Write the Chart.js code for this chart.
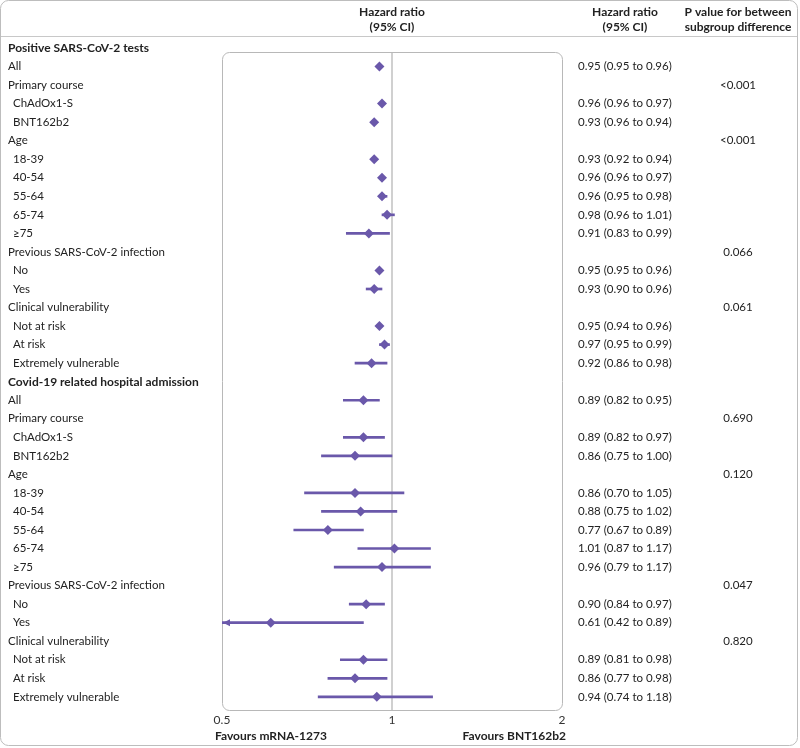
<!DOCTYPE html>
<html>
<head>
<meta charset="utf-8">
<script src="https://cdn.jsdelivr.net/npm/chart.js@4.4.1/dist/chart.umd.min.js"></script>
<style>
    html, body { margin: 0; padding: 0; background: #fff; }
    #forest { display: block; }
</style>
</head>
<body>
<canvas id="forest" width="800" height="748"></canvas>
<script>
// 行标签 (0 = 粗体标题, 1 = 分组, 2 = 缩进子项)
const rowLabels = [
    'Positive SARS-CoV-2 tests', 'All', 'Primary course', 'ChAdOx1-S', 'BNT162b2',
    'Age', '18-39', '40-54', '55-64', '65-74', '≥75',
    'Previous SARS-CoV-2 infection', 'No', 'Yes',
    'Clinical vulnerability', 'Not at risk', 'At risk', 'Extremely vulnerable',
    'Covid-19 related hospital admission', 'All', 'Primary course', 'ChAdOx1-S', 'BNT162b2',
    'Age', '18-39', '40-54', '55-64', '65-74', '≥75',
    'Previous SARS-CoV-2 infection', 'No', 'Yes',
    'Clinical vulnerability', 'Not at risk', 'At risk', 'Extremely vulnerable'
];
const rowLevels = [
    0, 1, 1, 2, 2, 1, 2, 2, 2, 2, 2, 1, 2, 2, 1, 2, 2, 2,
    0, 1, 1, 2, 2, 1, 2, 2, 2, 2, 2, 1, 2, 2, 1, 2, 2, 2
];

// 风险比及置信区间
const hrPoint = [
    null, 0.95, null, 0.96, 0.93, null, 0.93, 0.96, 0.96, 0.98, 0.91, null, 0.95, 0.93, null, 0.95, 0.97, 0.92,
    null, 0.89, null, 0.89, 0.86, null, 0.86, 0.88, 0.77, 1.01, 0.96, null, 0.90, 0.61, null, 0.89, 0.86, 0.94
];
const hrLow = [
    null, 0.95, null, 0.96, 0.92, null, 0.92, 0.96, 0.95, 0.96, 0.83, null, 0.95, 0.90, null, 0.94, 0.95, 0.86,
    null, 0.82, null, 0.82, 0.75, null, 0.70, 0.75, 0.67, 0.87, 0.79, null, 0.84, 0.42, null, 0.81, 0.77, 0.74
];
const hrHigh = [
    null, 0.96, null, 0.97, 0.94, null, 0.94, 0.97, 0.98, 1.01, 0.99, null, 0.96, 0.96, null, 0.96, 0.99, 0.98,
    null, 0.95, null, 0.97, 1.00, null, 1.05, 1.02, 0.89, 1.17, 1.17, null, 0.97, 0.89, null, 0.98, 0.98, 1.18
];

// 右侧文字列
const hrText = [
    '', '0.95 (0.95 to 0.96)', '', '0.96 (0.96 to 0.97)', '0.93 (0.96 to 0.94)', '',
    '0.93 (0.92 to 0.94)', '0.96 (0.96 to 0.97)', '0.96 (0.95 to 0.98)', '0.98 (0.96 to 1.01)', '0.91 (0.83 to 0.99)', '',
    '0.95 (0.95 to 0.96)', '0.93 (0.90 to 0.96)', '',
    '0.95 (0.94 to 0.96)', '0.97 (0.95 to 0.99)', '0.92 (0.86 to 0.98)',
    '', '0.89 (0.82 to 0.95)', '', '0.89 (0.82 to 0.97)', '0.86 (0.75 to 1.00)', '',
    '0.86 (0.70 to 1.05)', '0.88 (0.75 to 1.02)', '0.77 (0.67 to 0.89)', '1.01 (0.87 to 1.17)', '0.96 (0.79 to 1.17)', '',
    '0.90 (0.84 to 0.97)', '0.61 (0.42 to 0.89)', '',
    '0.89 (0.81 to 0.98)', '0.86 (0.77 to 0.98)', '0.94 (0.74 to 1.18)'
];
const pText = [
    '', '', '<0.001', '', '', '<0.001', '', '', '', '', '', '0.066', '', '', '0.061', '', '', '',
    '', '', '0.690', '', '', '0.120', '', '', '', '', '', '0.047', '', '', '0.820', '', '', ''
];

// 刻度
const xTicks = [0.5, 1, 2];

const markColor = '#6a58aa';
const textColor = '#222';
const fontFamily = 'Lato, "Noto Sans", sans-serif';
const regFont = `11.5px ${fontFamily}`;
const boldFont = `bold 12px ${fontFamily}`;

// 只保留有数据的行
const ciData = [];
const pointData = [];
hrPoint.forEach((v, i) => {
    if (v === null) return;
    ciData.push({ y: i, x: [hrLow[i], hrHigh[i]] });
    pointData.push({ x: v, y: i });
});

// 圆角框 + 文字
const tablePlugin = {
    id: 'tablePlugin',
    beforeDatasetsDraw(chart) {
        const { ctx, chartArea: a } = chart;
        ctx.save();
        ctx.strokeStyle = '#b8b8b8';
        ctx.lineWidth = 1;
        ctx.beginPath();
        ctx.roundRect(a.left + 0.5, a.top + 0.5, a.right - a.left, a.bottom - a.top, 7);
        ctx.stroke();
        ctx.restore();
    },
    afterDatasetsDraw(chart) {
        // 超出下限的箭头
        const { ctx, chartArea: a, scales } = chart;
        const xMin = scales.x.min;
        ctx.save();
        ctx.fillStyle = markColor;
        hrLow.forEach((v, i) => {
            if (v === null || v >= xMin) return;
            const y = scales.y.getPixelForValue(i);
            ctx.beginPath();
            ctx.moveTo(a.left + 1, y);
            ctx.lineTo(a.left + 8, y - 3.5);
            ctx.lineTo(a.left + 8, y + 3.5);
            ctx.closePath();
            ctx.fill();
        });
        ctx.restore();
    },
    afterDraw(chart) {
        const { ctx, scales } = chart;
        const W = chart.width, H = chart.height;
        ctx.save();

        // 外框和分隔线
        ctx.strokeStyle = '#bdbdbd';
        ctx.lineWidth = 1;
        ctx.beginPath();
        ctx.roundRect(0.5, 0.5, W - 3, H - 3, 8);
        ctx.stroke();
        ctx.strokeStyle = '#c8c8c8';
        ctx.beginPath();
        ctx.moveTo(1, 36.5);
        ctx.lineTo(W - 3, 36.5);
        ctx.stroke();

        ctx.fillStyle = textColor;
        ctx.textBaseline = 'middle';

        // 表头
        ctx.font = boldFont;
        ctx.textAlign = 'center';
        const midX = scales.x.getPixelForValue(1);
        ctx.fillText('Hazard ratio', midX, 12);
        ctx.fillText('(95% CI)', midX, 27);
        ctx.fillText('Hazard ratio', 625, 12);
        ctx.fillText('(95% CI)', 625, 27);
        ctx.fillText('P value for between', 738, 12);
        ctx.fillText('subgroup difference', 738, 27);

        // 各行
        rowLabels.forEach((label, i) => {
            const y = scales.y.getPixelForValue(i);
            const lvl = rowLevels[i];
            ctx.font = lvl === 0 ? boldFont : regFont;
            ctx.textAlign = 'left';
            ctx.fillText(label, lvl === 2 ? 13 : 8, y);
            ctx.font = regFont;
            if (hrText[i]) ctx.fillText(hrText[i], 578, y);
            if (pText[i]) {
                ctx.textAlign = 'center';
                ctx.fillText(pText[i], 738, y);
            }
        });

        // 底部说明
        ctx.font = boldFont;
        ctx.textAlign = 'left';
        ctx.fillText('Favours mRNA-1273', 215, 736);
        ctx.textAlign = 'right';
        ctx.fillText('Favours BNT162b2', 566, 736);
        ctx.restore();
    }
};

const ctx = document.getElementById('forest').getContext('2d');
const chart = new Chart(ctx, {
    type: 'scatter',
    data: {
        datasets: [{
            type: 'bar',
            indexAxis: 'y',
            data: ciData,
            backgroundColor: markColor,
            borderWidth: 0,
            barThickness: 2,
            order: 2
        }, {
            type: 'scatter',
            data: pointData,
            pointStyle: 'rectRot',
            radius: 5,
            backgroundColor: markColor,
            borderWidth: 0,
            order: 1
        }]
    },
    options: {
        responsive: false,
        animation: false,
        layout: {
            padding: { left: 222, right: 238, top: 52, bottom: 22 }
        },
        scales: {
            x: {
                type: 'logarithmic',
                min: 0.5,
                max: 2,
                afterBuildTicks: scale => {
                    scale.ticks = xTicks.map(v => ({ value: v }));
                },
                afterFit: scale => {
                    scale.height = 16;
                },
                border: { display: false },
                grid: {
                    drawTicks: false,
                    lineWidth: 2,
                    color: c => (c.tick && c.tick.value === 1 ? '#d0d0d0' : 'rgba(0,0,0,0)')
                },
                ticks: {
                    padding: 3,
                    color: '#333',
                    font: { family: fontFamily, size: 12 },
                    callback: v => String(v)
                }
            },
            y: {
                type: 'linear',
                reverse: true,
                offset: false,
                min: 0.216,
                max: 35.71,
                display: false
            }
        },
        plugins: {
            legend: { display: false },
            tooltip: { enabled: false }
        }
    },
    plugins: [tablePlugin]
});
</script>
</body>
</html>
